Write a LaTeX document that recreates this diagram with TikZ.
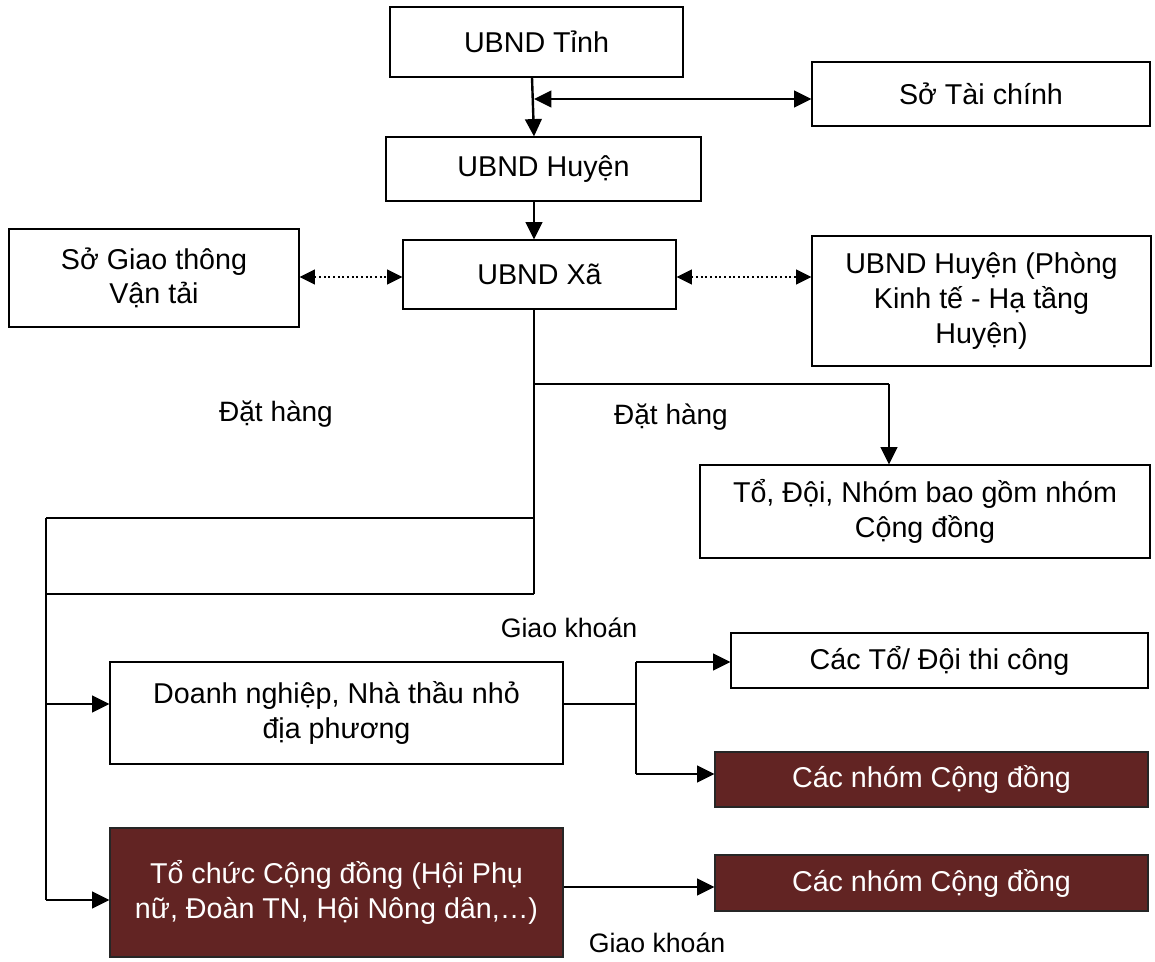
\documentclass[tikz,border=0pt]{standalone}
\usepackage{fontspec}
\setmainfont{Liberation Sans}
\usetikzlibrary{arrows.meta,calc}
\definecolor{boxred}{HTML}{622423}
\begin{document}
\begin{tikzpicture}[x=0.75pt,y=-0.75pt,
  box/.style={draw=black, line width=0.9pt, fill=white, inner sep=0pt, align=center, font=\fontsize{21.5}{26}\selectfont},
  darkbox/.style={box, fill=boxred, draw=black!85, text=white},
  conn/.style={line width=1.3pt},
  arr/.style={line width=1.8pt, -{Triangle[length=13pt,width=12.5pt]}},
  darr/.style={line width=1.8pt, {Triangle[length=13pt,width=12.5pt]}-{Triangle[length=13pt,width=12.5pt]}},
  dotarr/.style={line width=1.5pt, dotted, {Triangle[length=11.5pt,width=11pt]}-{Triangle[length=11.5pt,width=11pt]}},
  lblA/.style={font=\fontsize{21}{25}\selectfont, anchor=base},
  lblB/.style={font=\fontsize{20}{24}\selectfont, anchor=base},
]
\useasboundingbox (0,0) rectangle (1155,962);

% boxes
\node[box, minimum width=219.75pt, minimum height=52.5pt] (tinh) at (536.5,42) {UBND Tỉnh};
\node[box, minimum width=253.5pt, minimum height=48pt] (sotc) at (981,94) {Sở Tài chính};
\node[box, minimum width=236.25pt, minimum height=48pt] (huyen) at (543.5,169) {UBND Huyện};
\node[box, minimum width=217.5pt, minimum height=73.5pt] (gtvt) at (154,278) {Sở Giao thông\\Vận tải};
\node[box, minimum width=204.75pt, minimum height=51.75pt] (xa) at (539.5,274.5) {UBND Xã};
\node[box, minimum width=254.25pt, minimum height=97.5pt] (phong) at (981.5,301) {UBND Huyện (Phòng\\Kinh tế - Hạ tầng\\Huyện)};
\node[box, minimum width=337.5pt, minimum height=69.75pt] (todoi) at (925,511.5) {Tổ, Đội, Nhóm bao gồm nhóm\\Cộng đồng};
\node[box, minimum width=339.75pt, minimum height=76.5pt] (dn) at (336.5,713) {Doanh nghiệp, Nhà thầu nhỏ\\địa phương};
\node[box, minimum width=312.75pt, minimum height=41.25pt] (cto) at (939.5,660.5) {Các Tổ/ Đội thi công};
\node[darkbox, minimum width=324.75pt, minimum height=41.25pt] (nhom1) at (931.5,779.5) {Các nhóm Cộng đồng};
\node[darkbox, minimum width=324.75pt, minimum height=42pt] (nhom2) at (931.5,883) {Các nhóm Cộng đồng};
\node[darkbox, minimum width=339.75pt, minimum height=96.75pt] (tochuc) at (336.5,892.5) {Tổ chức Cộng đồng (Hội Phụ\\nữ, Đoàn TN, Hội Nông dân,…)};

% labels
\node[lblA] (lbl1) at (276,421) {Đặt hàng};
\node[lblA] (lbl2) at (671,424) {Đặt hàng};
\node[lblB] (lbl3) at (569,637) {Giao khoán};
\node[lblB] (lbl4) at (657,952) {Giao khoán};

% junction coordinates
\coordinate (j1) at (534,99);
\coordinate (d1) at (0,277);
\coordinate (b1) at (534,384);
\coordinate (k1) at (889,384);
\coordinate (b2) at (534,518);
\coordinate (b3) at (534,594);
\coordinate (l1) at (46,518);
\coordinate (l2) at (46,594);
\coordinate (l4) at (46,704);
\coordinate (l3) at (46,900);
\coordinate (m0) at (636,704);
\coordinate (m1) at (636,662);
\coordinate (m2) at (636,774);
\coordinate (n0) at (0,887);

% connectors
\draw[arr] ($(tinh.south)+(-4.5,0)$) -- ($(huyen.north)+(-9.5,0)$);
\draw[darr] (j1) -- (j1 -| sotc.west);
\draw[arr] ($(huyen.south)+(-9.5,0)$) -- (xa.north -| j1);
\draw[dotarr] (gtvt.east |- d1) -- (xa.west |- d1);
\draw[dotarr] (xa.east |- d1) -- (phong.west |- d1);
\draw[conn] (xa.south -| j1) -- (b3);
\draw[conn] (b1) -- (k1);
\draw[arr] (k1) -- (k1 |- todoi.north);
\draw[conn] (b2) -- (l1);
\draw[conn] (b3) -- (l2);
\draw[conn] (l1) -- (l3);
\draw[arr] (l4) -- (l4 -| dn.west);
\draw[arr] (l3) -- (l3 -| tochuc.west);
\draw[conn] (dn.east |- m0) -- (m0);
\draw[conn] (m1) -- (m2);
\draw[arr] (m1) -- (m1 -| cto.west);
\draw[arr] (m2) -- (m2 -| nhom1.west);
\draw[arr] (tochuc.east |- n0) -- (nhom2.west |- n0);
\end{tikzpicture}
\end{document}
